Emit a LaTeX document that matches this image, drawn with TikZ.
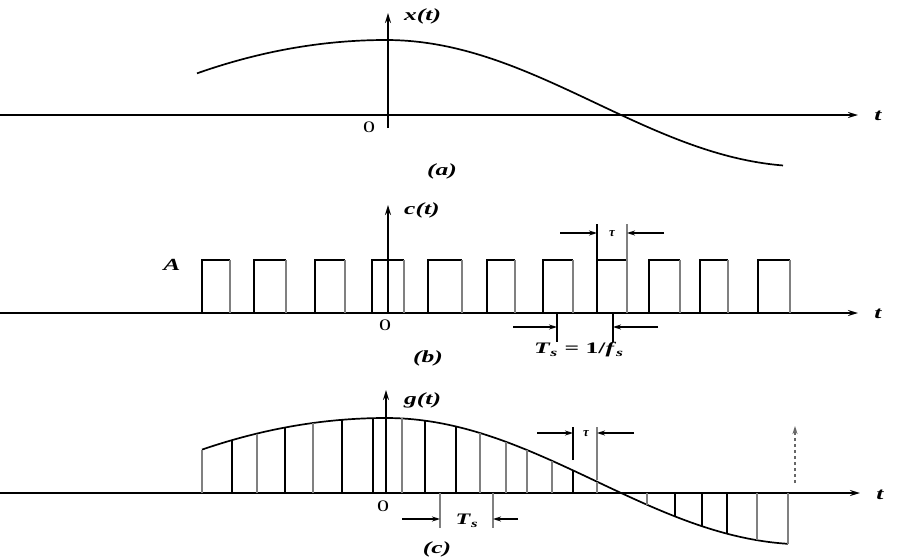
\documentclass[tikz,border=0pt]{standalone}
\usepackage{fontspec}
\usepackage{graphicx}
\setmainfont{Liberation Serif}
\usetikzlibrary{arrows.meta}
\newcommand\wtext[1]{\scalebox{1.5}[1]{#1}}
\begin{document}
\begin{tikzpicture}[x=1pt,y=-1pt,
  declare function={g(\u)=ifthenelse(\u<0,75-33*(\u/188)*(\u/188),11.8+63.2*cos(0.4285714*\u));},
  axis/.style={line width=2pt,-{Stealth[length=10pt,width=6pt]}},
  curve/.style={line width=1.7pt},
  pulse/.style={line width=1.7pt},
  pulsegray/.style={line width=2pt,black!50},
  dim/.style={line width=1.3pt,-{Stealth[length=8pt,width=5pt]}},
  lab/.style={font=\fontsize{17}{20}\selectfont\bfseries\itshape,inner sep=1pt},
  small/.style={font=\fontsize{16}{18}\selectfont,inner sep=1pt},
  caplab/.style={font=\fontsize{17}{20}\selectfont\bfseries\itshape,inner sep=1pt},
  taulab/.style={font=\fontsize{13}{14}\selectfont\bfseries\itshape,inner sep=0pt},
]
\fill[white] (0,0) rectangle (898,560);
\useasboundingbox (0,0) rectangle (898,560);

% ---------- (a) ----------
\draw[axis] (0,115) -- (858,115);
\node[lab] (ta) at (878,116) {\wtext{t}};
\draw[axis] (388,128) -- (388,13);
\node[lab,anchor=west] (xa) at (403,16) {\wtext{x(t)}};
\node[small] (oa) at (369,127) {\wtext{0}};
\node[caplab] (capa) at (442,171) {\wtext{(a)}};
\draw[curve] plot[domain=197:783,samples=120] (\x,{115-g(\x-386)});

% ---------- (b) ----------
\draw[axis] (0,313) -- (858,313);
\node[lab] (tb) at (878,314) {\wtext{t}};
\draw[axis] (388,313) -- (388,205);
\node[lab,anchor=west] (cb) at (403,210) {\wtext{c(t)}};
\node[lab] (ab) at (172,265) {\wtext{A}};
\node[small] (ob) at (385,325) {\wtext{0}};
\node[caplab] (capb) at (428,358) {\wtext{(b)}};
\foreach \l/\r in {202/230,254/286,315/345,372/404,428/462,487/515,543/573,597/627,649/680,700/728,758/790}{
  \draw[pulse] (\l,313) -- (\l,260) -- (\r,260);
  \draw[pulsegray] (\r,260) -- (\r,313);
}
% tau marker
\coordinate (tl) at (597,233);
\coordinate (tr) at (627,233);
\draw[pulse] (597,260) -- (597,224);
\draw[pulsegray] (627,260) -- (627,224);
\coordinate (tla) at (560,233);
\coordinate (tra) at (664,233);
\draw[dim] (tla) -- (tl);
\draw[dim] (tra) -- (tr);
\node[taulab] (taub) at (612,234) {τ};
% Ts marker
\draw[pulse] (557,313) -- (557,342);
\draw[pulse] (613,313) -- (613,342);
\coordinate (sl) at (557,327);
\coordinate (sr) at (613,327);
\coordinate (sla) at (513,327);
\coordinate (sra) at (658,327);
\draw[dim] (sla) -- (sl);
\draw[dim] (sra) -- (sr);
\node[font=\fontsize{16}{18}\selectfont\bfseries,inner sep=1pt] (tsb) at (579,350) {\scalebox{1.6}[1]{\textit{T}\textsubscript{\textit{s}} = 1/\textit{f}\textsubscript{\textit{s}}}};

% ---------- (c) ----------
\draw[axis] (0,493) -- (860,493);
\node[lab] (tc) at (880,495) {\wtext{t}};
\draw[axis] (386,493) -- (386,390);
\node[lab,anchor=west] (gc) at (403,400) {\wtext{g(t)}};
\node[small] (oc) at (383,506) {\wtext{0}};
\node[caplab] (capc) at (437,549) {\wtext{(c)}};
\draw[curve] plot[domain=202:788,samples=120] (\x,{493-g(\x-386)});
\foreach \xx in {232,285,342,373,425,456,573,675,702,727}{
  \draw[pulse] (\xx,493) -- (\xx,{493-g(\xx-386)});
}
\foreach \xx in {202,257,313,402,480,506,527,552,597,647,757,788}{
  \draw[pulsegray] (\xx,493) -- (\xx,{493-g(\xx-386)});
}
% tau marker
\draw[pulse] (573,460) -- (573,427);
\draw[pulsegray] (597,480) -- (597,427);
\coordinate (ctl) at (573,433);
\coordinate (ctr) at (597,433);
\coordinate (ctla) at (537,433);
\coordinate (ctra) at (634,433);
\draw[dim] (ctla) -- (ctl);
\draw[dim] (ctra) -- (ctr);
\node[taulab] (tauc) at (586,434) {τ};
% Ts marker
\draw[pulsegray] (440,493) -- (440,528);
\draw[pulsegray] (493,493) -- (493,528);
\coordinate (csl) at (440,519);
\coordinate (csr) at (493,519);
\coordinate (csla) at (402,519);
\coordinate (csra) at (518,519);
\draw[dim] (csla) -- (csl);
\draw[dim] (csra) -- (csr);
\node[font=\fontsize{16}{18}\selectfont\bfseries,inner sep=1pt] (tsc) at (467,521) {\scalebox{1.5}[1]{\textit{T}\textsubscript{\textit{s}}}};
% dashed arrow
\coordinate (da) at (795,483);
\coordinate (db) at (795,426);
\draw[dashed,black!60,line width=1.3pt,-{Stealth[length=8pt,width=5pt]}] (da) -- (db);
\end{tikzpicture}
\end{document}
